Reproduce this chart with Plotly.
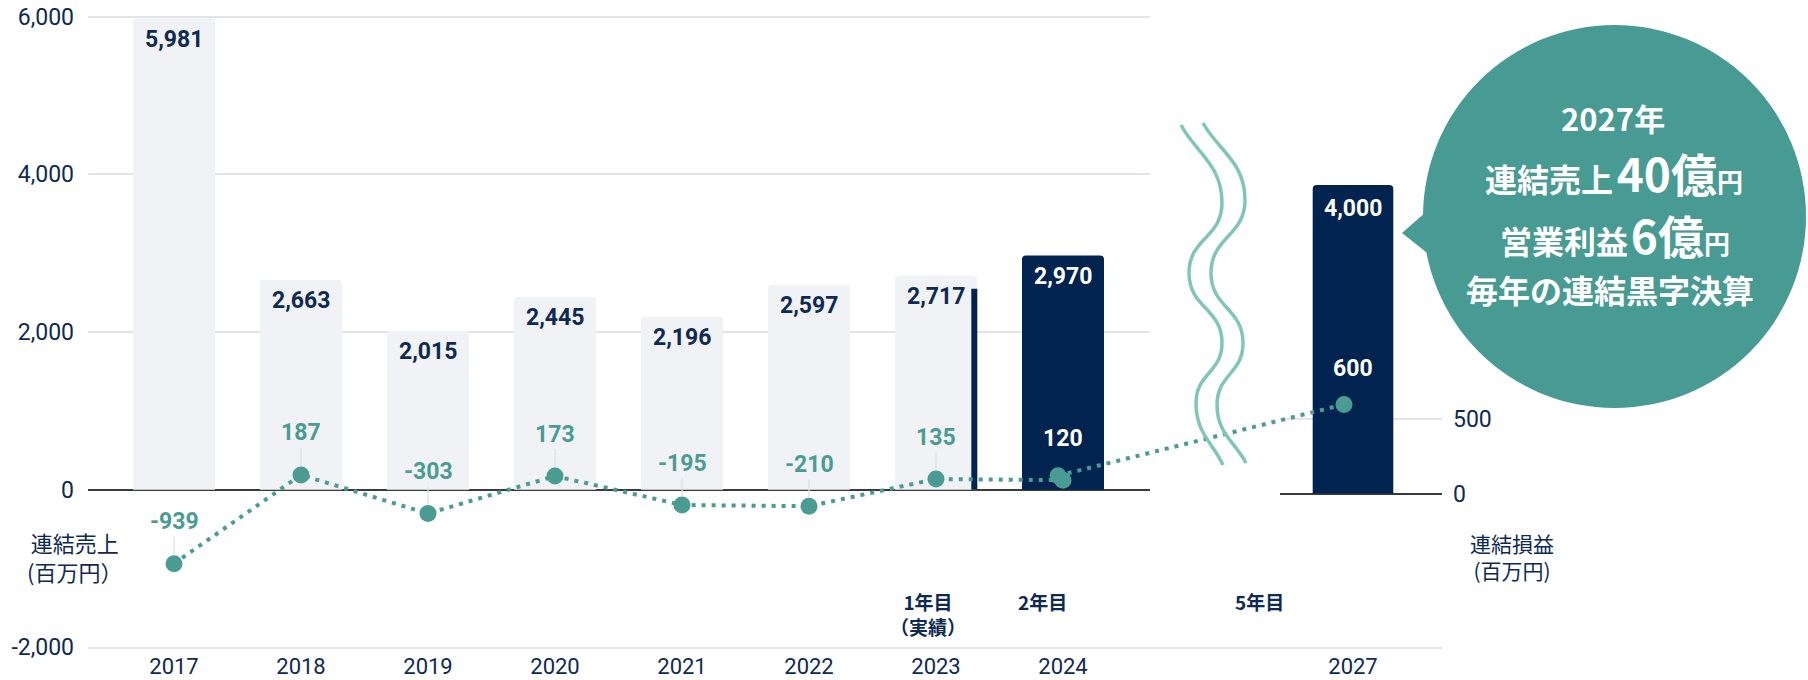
import plotly.graph_objects as go

# ---------------- data ----------------
years = [2017, 2018, 2019, 2020, 2021, 2022, 2023, 2024]
revenue = [5981, 2663, 2015, 2445, 2196, 2597, 2717, 2970]
profit = [-939, 187, -303, 173, -195, -210, 135, 120]
highlight_year = 2024

target_year = [2027]
target_revenue = [4000]
target_profit = [600]

sliver_year = [2023]
sliver_value = [2550]

link_years = [2024, 2027]
link_profit = [120, 600]

left_ticks = [-2000, 0, 2000, 4000, 6000]
right_ticks = [0, 500]

milestones = ["<b>1年目<br>（実績）</b>", "<b>2年目</b>", "<b>5年目</b>"]
left_title = "連結売上<br>(百万円）"
right_title = "連結損益<br>(百万円)"
bubble_lines = [
    "<b>2027年</b>",
    "<b>連結売上<span style='font-size:16px'> </span><span style='font-size:46px'>40億</span><span style='font-size:26px'>円</span></b>",
    "<b>営業利益<span style='font-size:12px'> </span><span style='font-size:46px'>6億</span><span style='font-size:26px'>円</span></b>",
    "<b>毎年の連結黒字決算</b>",
]

# ---------------- styles ----------------
W, H = 1808, 680
NAVY = "#0E2A52"
DARK = "#00234F"
LIGHT = "#F0F2F6"
TEAL = "#4A9C92"
BUBBLE = "#489B92"
WAVE = "#80C6B8"
GRID = "#E2E4EA"
ZERO = "#3A3A3A"
FONT = "Roboto, 'Noto Sans CJK JP', sans-serif"
JP = "'Noto Sans CJK JP', Roboto, sans-serif"


def px(x):
    """pixel column -> paper x"""
    return x / W


def py(y):
    """pixel row -> paper y"""
    return 1 - y / H


BOT = 647.3   # pixel row of plot bottom
TOP = 0.0     # pixel row of plot top
Z1, K1 = 489.65, 0.078825
y_range = [(Z1 - BOT) / K1, (Z1 - TOP) / K1]
Z2 = 493.5
K2 = (493.5 - 185) / 4000
y2_range = [(Z2 - BOT) / K2, (Z2 - TOP) / K2]
K3 = (493.5 - 419.3) / 500
y3_range = [(Z2 - BOT) / K3, (Z2 - TOP) / K3]

step = 127.0
c2017 = 174.0
x_range = [years[0] - (c2017 - 88) / step, years[0] + (1150 - c2017) / step]
c2027 = 1353.0
x2_range = [target_year[0] - (c2027 - 1280) / step, target_year[0] + (1442 - c2027) / step]
p2024, p2027 = 1058.0, 1344.0
ppy = (p2027 - p2024) / 3.0
x3_range = [2024 - (p2024 - 88) / ppy, 2027 + (1442 - p2027) / ppy]

fig = go.Figure()

bar_colors = [DARK if y == highlight_year else LIGHT for y in years]
fig.add_trace(go.Bar(
    x=years, y=revenue, xaxis="x", yaxis="y",
    marker=dict(color=bar_colors, cornerradius=4, line=dict(width=0)),
    width=82 / step, hoverinfo="skip", showlegend=False,
))
fig.add_trace(go.Bar(
    x=sliver_year, y=sliver_value, xaxis="x", yaxis="y",
    marker=dict(color=DARK, line=dict(width=0)),
    width=6 / step, offset=0.278, hoverinfo="skip", showlegend=False,
))
fig.add_trace(go.Scatter(
    x=years, y=profit, xaxis="x", yaxis="y", mode="lines+markers",
    line=dict(color=TEAL, width=4, dash="4px,6px"),
    marker=dict(color=TEAL, size=17), hoverinfo="skip", showlegend=False,
    cliponaxis=False,
))
fig.add_trace(go.Bar(
    x=target_year, y=target_revenue, xaxis="x2", yaxis="y2",
    marker=dict(color=DARK, cornerradius=4, line=dict(width=0)),
    width=80.6 / step, hoverinfo="skip", showlegend=False,
))
fig.add_trace(go.Scatter(
    x=link_years, y=link_profit, xaxis="x3", yaxis="y4", mode="lines+markers",
    line=dict(color=TEAL, width=4, dash="4px,6px"),
    marker=dict(color=TEAL, size=17), hoverinfo="skip", showlegend=False,
    cliponaxis=False,
))

annotations = []
for yr, v in zip(years, revenue):
    col = "white" if yr == highlight_year else NAVY
    annotations.append(dict(x=yr, y=v, xref="x", yref="y", text=f"<b>{v:,}</b>",
                            showarrow=False, yshift=-21,
                            font=dict(size=23, color=col, family=FONT)))
for yr, v in zip(target_year, target_revenue):
    annotations.append(dict(x=yr, y=v, xref="x2", yref="y2", text=f"<b>{v:,}</b>",
                            showarrow=False, yshift=-23,
                            font=dict(size=23, color="white", family=FONT)))
for yr, p in zip(years, profit):
    if yr == highlight_year:
        annotations.append(dict(x=yr, y=p, xref="x", yref="y", text=f"<b>{p}</b>",
                                showarrow=False, yshift=42,
                                font=dict(size=23, color="white", family=FONT)))
    else:
        annotations.append(dict(x=yr, y=p, xref="x", yref="y", text=f"<b>{p}</b>",
                                showarrow=True, ax=0, ay=-42, arrowhead=0,
                                arrowwidth=1.3, arrowcolor="#DCDFE6", standoff=9,
                                font=dict(size=23, color=TEAL, family=FONT)))
for yr, p in zip(target_year, target_profit):
    annotations.append(dict(x=yr, y=p, xref="x2", yref="y3", text=f"<b>{p}</b>",
                            showarrow=False, yshift=36,
                            font=dict(size=23, color="white", family=FONT)))

for txt, (mx, my) in zip(milestones, [(928, 614), (1042, 601), (1259, 601)]):
    annotations.append(dict(x=px(mx), y=py(my), xref="paper", yref="paper", text=txt,
                            showarrow=False, xanchor="center", yanchor="middle",
                            font=dict(size=19, color=NAVY, family=JP)))
annotations.append(dict(x=px(74), y=py(556), xref="paper", yref="paper", text=left_title,
                        showarrow=False, xanchor="center", yanchor="middle",
                        font=dict(size=22, color=NAVY, family=JP)))
annotations.append(dict(x=px(1512), y=py(556), xref="paper", yref="paper", text=right_title,
                        showarrow=False, xanchor="center", yanchor="middle",
                        font=dict(size=21, color=NAVY, family=JP)))
for txt, (bx, by), sz in zip(bubble_lines,
                             [(1613, 117), (1614, 172), (1615, 234), (1610, 289)],
                             [31, 32, 32, 32]):
    annotations.append(dict(x=px(bx), y=py(by), xref="paper", yref="paper", text=txt,
                            showarrow=False, xanchor="center", yanchor="middle",
                            font=dict(size=sz, color="white", family=JP)))


def wave_path(pts):
    (x0, y0) = pts[0]
    d = f"M {px(x0)},{py(y0)}"
    n = len(pts)
    for i in range(1, n):
        ax_, ay_ = pts[i - 1]
        bx_, by_ = pts[i]
        dy = by_ - ay_
        if i == 1:
            c1 = (ax_ + 0.35 * (bx_ - ax_), ay_ + 0.35 * dy)
        else:
            c1 = (ax_, ay_ + 0.5 * dy)
        if i == n - 1:
            c2 = (bx_ - 0.35 * (bx_ - ax_), by_ - 0.35 * dy)
        else:
            c2 = (bx_, by_ - 0.5 * dy)
        d += (f" C {px(c1[0])},{py(c1[1])} {px(c2[0])},{py(c2[1])} "
              f"{px(bx_)},{py(by_)}")
    return d


wave1 = [(1181, 125), (1222, 203), (1189, 273), (1222, 343), (1196, 403), (1223, 465)]
wave2 = [(1203, 123), (1245, 200), (1211, 273), (1243, 343), (1217, 405), (1246, 463)]

shapes = [
    dict(type="path", xref="paper", yref="paper", path=wave_path(wave1),
         line=dict(color=WAVE, width=3.5)),
    dict(type="path", xref="paper", yref="paper", path=wave_path(wave2),
         line=dict(color=WAVE, width=3.5)),
    dict(type="circle", xref="paper", yref="paper",
         x0=px(1423), x1=px(1806), y0=py(408), y1=py(25),
         fillcolor=BUBBLE, line=dict(width=0), layer="below"),
    dict(type="path", xref="paper", yref="paper",
         path=f"M {px(1426)},{py(212)} L {px(1402)},{py(233)} L {px(1431)},{py(256)} Z",
         fillcolor=BUBBLE, line=dict(width=0), layer="below"),
]

tickfont = dict(size=23, color=NAVY, family=FONT)
yearfont = dict(size=22, color=NAVY, family=FONT)
fig.update_layout(
    width=W, height=H, autosize=False,
    margin=dict(l=0, r=0, t=0, b=0, pad=0),
    paper_bgcolor="white", plot_bgcolor="rgba(0,0,0,0)",
    barmode="overlay", showlegend=False, hovermode=False,
    font=dict(family=FONT, color=NAVY),
    xaxis=dict(domain=[px(88), px(1150)], type="linear", range=x_range, anchor="y",
               tickvals=years, ticktext=[str(y) for y in years], automargin=False,
               showgrid=False, showline=False, zeroline=False, ticks="",
               tickfont=yearfont, ticklabelstandoff=4),
    yaxis=dict(domain=[py(BOT), py(TOP)], range=y_range, anchor="x", automargin=False,
               tickvals=left_ticks, ticktext=[f"{v:,}" for v in left_ticks],
               showgrid=True, gridcolor=GRID, gridwidth=2,
               zeroline=True, zerolinecolor=ZERO, zerolinewidth=2,
               showline=False, ticks="", tickfont=tickfont, ticklabelstandoff=13,
               ticklabeloverflow="allow"),
    xaxis2=dict(domain=[px(1280), px(1442)], type="linear", range=x2_range,
                tickvals=target_year, ticktext=[str(y) for y in target_year],
                anchor="y3", automargin=False,
                showgrid=False, showline=False, zeroline=False, ticks="",
                tickfont=yearfont, ticklabelstandoff=4),
    yaxis3=dict(domain=[py(BOT), py(TOP)], range=y3_range, anchor="x2", side="right",
                automargin=False,
                tickvals=right_ticks, ticktext=[f"{v:,}" for v in right_ticks],
                showgrid=True, gridcolor=GRID, gridwidth=2,
                zeroline=True, zerolinecolor=ZERO, zerolinewidth=2,
                showline=False, ticks="", tickfont=tickfont, ticklabelstandoff=10),
    yaxis2=dict(range=y2_range, anchor="x2", overlaying="y3", visible=False,
                automargin=False, showgrid=False, zeroline=False),
    xaxis3=dict(domain=[px(88), px(1442)], type="linear", range=x3_range, anchor="y4",
                automargin=False,
                showgrid=False, zeroline=False, showticklabels=False, ticks="",
                showline=True, linecolor=GRID, linewidth=2),
    yaxis4=dict(domain=[py(BOT), py(TOP)], range=y3_range, anchor="x3", visible=False,
                automargin=False, showgrid=False, zeroline=False),
    annotations=annotations,
    shapes=shapes,
)

# remove the browser's default 8px page margin so the figure fills the window exactly
fig.write_html("out.html",
               config={"displayModeBar": False, "staticPlot": True},
               post_script="document.body.style.margin='0px';document.body.style.overflow='hidden';")
